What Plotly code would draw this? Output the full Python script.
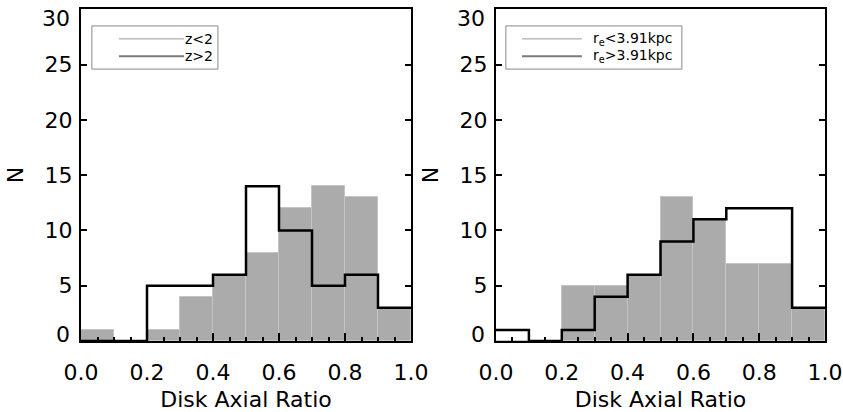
import plotly.graph_objects as go
from plotly.subplots import make_subplots

bin_edges = [0.0, 0.1, 0.2, 0.3, 0.4, 0.5, 0.6, 0.7, 0.8, 0.9, 1.0]
bin_centers = [0.05, 0.15, 0.25, 0.35, 0.45, 0.55, 0.65, 0.75, 0.85, 0.95]

# Left panel: redshift split
z_high_counts = [1, 0, 1, 4, 6, 8, 12, 14, 13, 3]   # gray filled (z>2)
z_low_counts = [0, 0, 5, 5, 6, 14, 10, 5, 6, 3]     # black outline (z<2)

# Right panel: size split
re_large_counts = [0, 0, 5, 5, 6, 13, 11, 7, 7, 3]  # gray filled
re_small_counts = [1, 0, 1, 4, 6, 9, 11, 12, 12, 3] # black outline

y_tickvals = [0, 5, 10, 15, 20, 25, 30]
y_ticktext = ["", "5", "10", "15", "20", "25", ""]   # end labels drawn nudged inward below
y_end_labels = [(0, "0", 7), (30, "30", -9)]

left_legend = ["z&lt;2", "z&gt;2"]
right_legend = ["r<sub>e</sub>&lt;3.91kpc", "r<sub>e</sub>&gt;3.91kpc"]

FONT = "DejaVu Sans, Liberation Sans, Arial, sans-serif"
FS = 22
FILL = "#ababab"

fig = make_subplots(rows=1, cols=2)

panels = [(z_high_counts, z_low_counts), (re_large_counts, re_small_counts)]
for i, (filled, outline) in enumerate(panels, start=1):
    fig.add_trace(go.Bar(x=bin_centers, y=filled, width=0.1,
                         marker=dict(color=FILL, line=dict(color="#c4c4c4", width=1)),
                         showlegend=False), row=1, col=i)
    fig.add_trace(go.Scatter(x=bin_edges, y=outline + [outline[-1]], mode="lines",
                             line=dict(shape="hv", color="black", width=2.5),
                             showlegend=False, cliponaxis=True), row=1, col=i)

xdomains = [[81/843, 411/843], [496/843, 825/843]]
for i in (1, 2):
    fig.update_xaxes(row=1, col=i, domain=xdomains[i-1], range=[0, 1.0], dtick=0.2, tick0=0,
                     tickformat=".1f", ticks="inside", ticklen=8, tickwidth=1.5, tickcolor="black",
                     minor=dict(dtick=0.05, ticks="inside", ticklen=4, tickwidth=1.5, tickcolor="black"),
                     showline=True, linecolor="black", linewidth=2, mirror=True,
                     showgrid=False, zeroline=False, automargin=False,
                     ticklabelstandoff=11, ticklabeloverflow="allow",
                     tickfont=dict(family=FONT, size=FS, color="black"),
                     title=dict(text="Disk Axial Ratio", standoff=14,
                                font=dict(family=FONT, size=FS, color="black")))
    fig.update_yaxes(row=1, col=i, range=[0, 30.02], tickmode="array",
                     tickvals=y_tickvals, ticktext=y_ticktext,
                     ticks="inside", ticklen=6, tickwidth=1.5, tickcolor="black",
                     showline=True, linecolor="black", linewidth=2, mirror="ticks",
                     showgrid=False, zeroline=False, automargin=False,
                     ticklabelstandoff=2, ticklabeloverflow="allow",
                     tickfont=dict(family=FONT, size=FS, color="black"),
                     title=dict(text="N", standoff=15,
                                font=dict(family=FONT, size=FS, color="black")))

# nudged end labels of the y axes
for xr, yr in (("x domain", "y"), ("x2 domain", "y2")):
    for val, txt, shift in y_end_labels:
        fig.add_annotation(xref=xr, yref=yr, x=0, y=val, text=txt, showarrow=False,
                           xanchor="right", yanchor="middle", xshift=-9, yshift=shift,
                           font=dict(family=FONT, size=FS, color="black"))

# manual legends
legs = [
    dict(xr="x domain", yr="y domain", box=(0.033, 0.415), line=(0.115, 0.312), tx=0.31, labels=left_legend),
    dict(xr="x2 domain", yr="y2 domain", box=(0.030, 0.565), line=(0.079, 0.261), tx=0.29, labels=right_legend),
]
for lg in legs:
    fig.add_shape(type="rect", xref=lg["xr"], yref=lg["yr"], x0=lg["box"][0], x1=lg["box"][1],
                  y0=0.819, y1=0.949, line=dict(color="#888888", width=1), fillcolor="white")
    for j, (yy, col, w) in enumerate([(0.910, "#999999", 1), (0.858, "#7a7a7a", 2)]):
        fig.add_shape(type="line", xref=lg["xr"], yref=lg["yr"], x0=lg["line"][0], x1=lg["line"][1],
                      y0=yy, y1=yy, line=dict(color=col, width=w))
        fig.add_annotation(xref=lg["xr"], yref=lg["yr"], x=lg["tx"], y=yy, text=lg["labels"][j],
                           showarrow=False, xanchor="left", yanchor="middle",
                           font=dict(family=FONT, size=14, color="black"))

fig.update_layout(width=843, height=412, margin=dict(l=0, r=0, t=9, b=71),
                  plot_bgcolor="white", paper_bgcolor="white", bargap=0, showlegend=False)

fig.write_html("out.html", config={"displayModeBar": False},
               post_script="document.body.style.margin='0';")
